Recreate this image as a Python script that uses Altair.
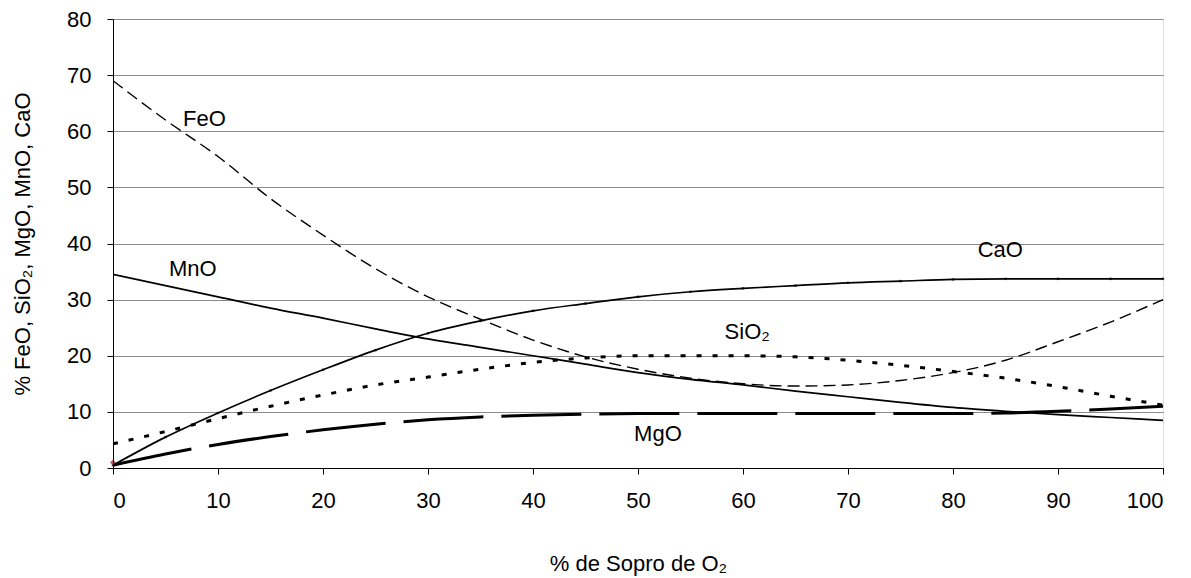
import altair as alt
import pandas as pd

x_vals = [0, 5, 10, 15, 20, 25, 30, 35, 40, 45, 50, 55, 60, 65, 70, 75, 80, 85, 90, 95, 100]
feo = [69, 62, 55.5, 48, 41.5, 35.5, 30.5, 26.5, 22.8, 19.8, 17.6, 16, 15, 14.6, 14.8, 15.6, 17, 19.2, 22.5, 26, 30]
mno = [34.5, 32.5, 30.5, 28.5, 26.7, 24.8, 23.0, 21.5, 20.0, 18.5, 17.0, 15.8, 14.8, 13.7, 12.7, 11.7, 10.8, 10.1, 9.5, 9.0, 8.5]
cao = [0.5, 5.5, 9.8, 13.8, 17.5, 21, 24, 26.2, 28, 29.3, 30.5, 31.4, 32, 32.5, 33, 33.3, 33.6, 33.7, 33.7, 33.7, 33.7]
sio2 = [4.3, 6.5, 8.8, 11, 13, 14.8, 16.2, 17.6, 18.8, 19.6, 20, 20, 20, 19.8, 19.2, 18.3, 17.2, 16, 14.5, 12.8, 11.2]
mgo = [0.5, 2.5, 4.2, 5.6, 6.8, 7.8, 8.6, 9.1, 9.4, 9.6, 9.7, 9.7, 9.7, 9.7, 9.7, 9.7, 9.7, 9.8, 10.1, 10.5, 11]

label_text = ["FeO", "MnO", "CaO", "SiO₂", "MgO"]
label_x = [8.7, 7.6, 84.5, 60.4, 51.9]
label_y = [62.1, 35.4, 38.8, 24.2, 6.0]

marker_x = [0]
marker_y = [1]

FONT = "Liberation Sans"
FS = 22

xs = alt.Scale(domain=[0, 100], nice=False)
ys = alt.Scale(domain=[0, 80], nice=False)

xaxis = alt.Axis(values=list(range(0, 101, 10)), title="% de Sopro de O₂", grid=False,
                 domainColor="black", tickColor="black", tickSize=6, labelPadding=16,
                 labelFontSize=FS, titleFontSize=FS, titlePadding=42, labelColor="black",
                 titleColor="black", titleFontWeight="normal", labelFont=FONT, titleFont=FONT)
yaxis = alt.Axis(values=list(range(0, 81, 10)), title="% FeO, SiO₂, MgO, MnO, CaO", grid=True,
                 gridColor="#8c8c8c", gridWidth=1, domainColor="black", tickColor="black",
                 tickSize=6, labelPadding=16, labelFontSize=FS, titleFontSize=FS, titlePadding=32,
                 labelColor="black", titleColor="black", titleFontWeight="normal",
                 labelFont=FONT, titleFont=FONT)


def series(vals, dash, width):
    df = pd.DataFrame({"x": x_vals, "y": vals})
    kw = dict(color="black", strokeWidth=width, interpolate="monotone", clip=True)
    if dash:
        kw["strokeDash"] = dash
    return alt.Chart(df).mark_line(**kw).encode(
        x=alt.X("x:Q", scale=xs, axis=xaxis),
        y=alt.Y("y:Q", scale=ys, axis=yaxis),
    )


base_df = pd.DataFrame({"x": x_vals, "y": cao})
cao_pts = alt.Chart(base_df).mark_point(shape="square", filled=True, size=6, color="black").encode(
    x=alt.X("x:Q", scale=xs), y=alt.Y("y:Q", scale=ys))

lbl_df = pd.DataFrame({"t": label_text, "x": label_x, "y": label_y})
labels = alt.Chart(lbl_df).mark_text(font=FONT, fontSize=FS, color="black", align="center",
                                     baseline="middle").encode(
    x=alt.X("x:Q", scale=xs), y=alt.Y("y:Q", scale=ys), text="t:N")

mk_df = pd.DataFrame({"x": marker_x, "y": marker_y})
marker = alt.Chart(mk_df).mark_point(shape="diamond", filled=True, size=35, color="#8b1a1a").encode(
    x=alt.X("x:Q", scale=xs), y=alt.Y("y:Q", scale=ys))

chart = alt.layer(
    series(mgo, [80, 18], 3),
    series(sio2, [5, 11], 3),
    series(feo, [12, 6], 1.4),
    series(mno, None, 1.7),
    series(cao, None, 1.7),
    cao_pts,
    marker,
    labels,
).properties(
    width=1050, height=449,
    autosize=alt.AutoSizeParams(type="none"),
    padding={"left": 105, "top": 11, "right": 20, "bottom": 108},
).configure_view(stroke="#8c8c8c", strokeWidth=1).configure(background="white")

chart.save("out.html", embed_options={"renderer": "svg", "actions": False})
